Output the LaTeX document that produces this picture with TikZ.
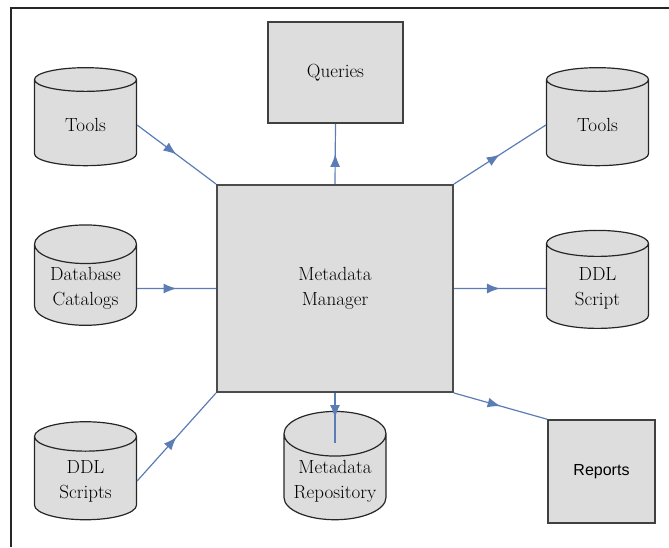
\documentclass[tikz,border=0pt]{standalone}
\usepackage{fontspec}
\newfontfamily\repfont{Liberation Sans}
\usetikzlibrary{shapes.geometric,arrows.meta,decorations.markings}
\definecolor{boxgray}{RGB}{221,221,221}
\definecolor{linkblue}{RGB}{92,124,182}
\tikzset{
  store/.style={cylinder, shape border rotate=90, aspect=0.5, draw=black!85, fill=boxgray,
    line width=1.2pt, minimum width=102pt, minimum height=98pt, align=center,
    font=\fontsize{19}{25}\selectfont},
  block/.style={rectangle, draw=black!75, fill=boxgray, line width=1.5pt, align=center,
    font=\fontsize{19}{25}\selectfont},
  link/.style={linkblue, line width=1.2pt, postaction={decorate},
    decoration={markings, mark=at position 0.5 with {\arrow{Latex[length=13pt,width=10pt]}}}},
}
\begin{document}
\begin{tikzpicture}[x=1pt,y=-1pt]
\useasboundingbox (0,0) rectangle (669,547);
\draw[black!85,line width=1.3pt] (11,547) -- (11,8) -- (669,8);

\node[block,line width=2pt,draw=black!70,minimum width=236pt,minimum height=207pt] (mgr) at (335,288.5) {Metadata\\Manager};
\node[block,minimum width=135pt,minimum height=101pt] (queries) at (335.5,72.5) {Queries};
\node[block,minimum width=107pt,minimum height=103pt,font=\repfont\fontsize{16}{20}\selectfont] (reports) at (601.5,471.5) {Reports};

\node[store] (toolsl) at (85.5,125) {Tools};
\node[store] (catalogs) at (85.5,288.5) {Database\\Catalogs};
\node[store] (ddlin) at (85.5,481) {DDL\\Scripts};
\node[store] (toolsr) at (597.5,125) {Tools};
\node[store] (ddlout) at (597.5,288.5) {DDL\\Script};
\node[store] (repo) at (335,481) {Metadata\\Repository};
\coordinate (repotop) at (335,443);

\draw[link] (toolsl.east) -- (mgr.north west);
\draw[link] (catalogs.east) -- (mgr.west);
\draw[link] (ddlin.east) -- (mgr.south west);
\draw[link] (mgr.north) -- (queries.south);
\draw[link] (mgr.north east) -- (toolsr.west);
\draw[link] (mgr.east) -- (ddlout.west);
\draw[link] (mgr.south east) -- (reports.north west);
\draw[link] (mgr.south) -- (repotop);
\end{tikzpicture}
\end{document}
